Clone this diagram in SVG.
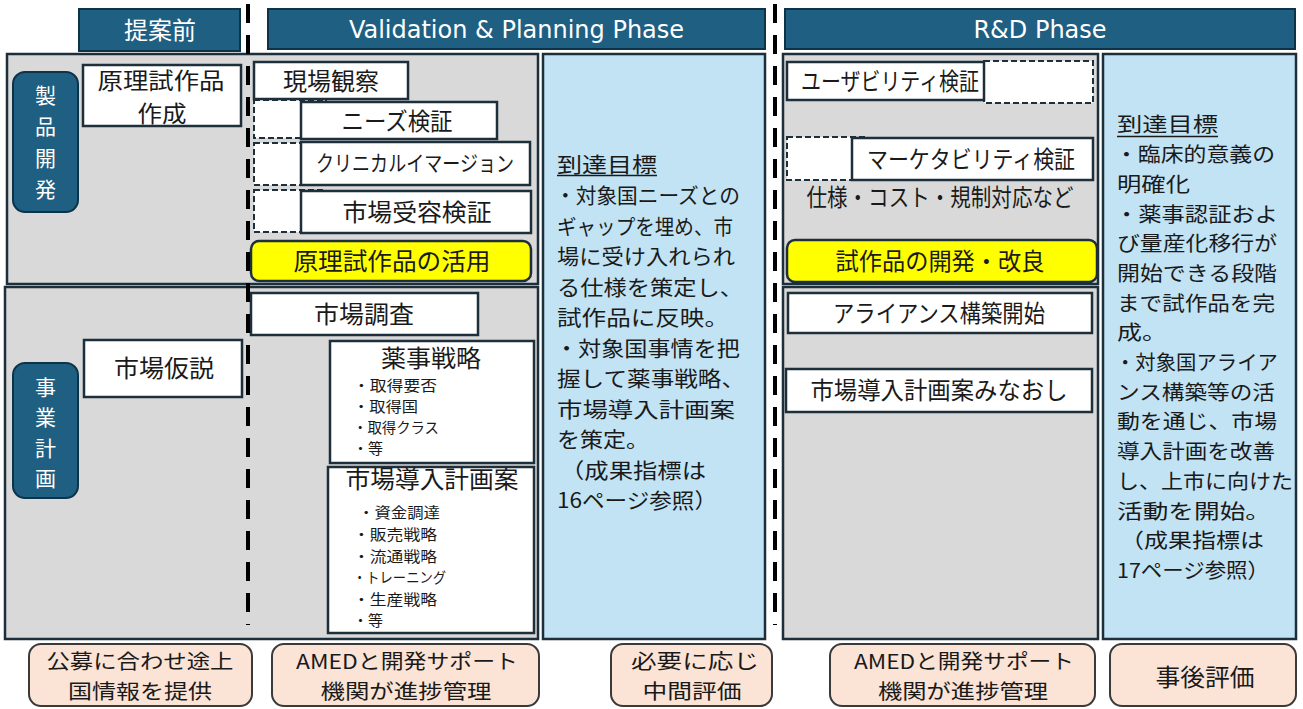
<svg xmlns="http://www.w3.org/2000/svg" width="1303" height="709" viewBox="0 0 1303 709">
<style>
text{font-family:"Noto Sans CJK JP","Noto Sans",sans-serif;fill:#1a1a1a;font-size:24px}
.hdr{fill:#1f5f82;stroke:#0d3349;stroke-width:2}
.ht{fill:#fff}
.lt{fill:#fff;font-size:21px}
.lat{font-family:"DejaVu Sans",sans-serif;font-size:24px;fill:#fff}
.panel{fill:#d9d9d9;stroke:#1c2f3a;stroke-width:2.5}
.goal{fill:#c2e3f4;stroke:#1c2f3a;stroke-width:2.5}
.box{fill:#fff;stroke:#1c2f3a;stroke-width:2.5}
.dbox{fill:#fff;stroke:#1c2f3a;stroke-width:2;stroke-dasharray:6 3}
.yel{fill:#ffff00;stroke:#1c2f3a;stroke-width:2.5}
.lbl{fill:#1f5f82;stroke:#0d3349;stroke-width:2}
.peach{fill:#fbe4d6;stroke:#3a3a3a;stroke-width:2}
.sep{stroke:#000;stroke-width:4;stroke-dasharray:19 12;fill:none}
.ul{stroke:#1a1a1a;stroke-width:1.5}
.m{text-anchor:middle}
.gv{font-size:21px}
.gr{font-size:20.4px}
.b2{font-size:20.4px}
.s{font-size:14.5px}
.t2{font-size:22.5px}
.k{font-size:21.5px}
</style>

<g id="headers">
  <g id="h-pre"><rect class="hdr" x="79" y="9" width="161" height="42"/><text class="ht m" x="160" y="38.5">提案前</text></g>
  <g id="h-val"><rect class="hdr" x="268" y="9" width="497" height="40"/><text class="lat m" x="516.5" y="38">Validation &amp; Planning Phase</text></g>
  <g id="h-rd"><rect class="hdr" x="785" y="9" width="510" height="40"/><text class="lat m" x="1040" y="38">R&amp;D Phase</text></g>
</g>

<g id="panels">
  <rect class="panel" x="7" y="54" width="531" height="230"/>
  <rect class="panel" x="5" y="287" width="533" height="352"/>
  <rect class="panel" x="783" y="54" width="315" height="230"/>
  <rect class="panel" x="783" y="287" width="315" height="352"/>
</g>

<g id="goal-vp">
  <rect class="goal" x="543" y="54" width="222" height="585"/>
  <text class="gv" x="557" y="171.5" textLength="100" lengthAdjust="spacingAndGlyphs">到達目標</text>
  <line class="ul" x1="557" y1="175.5" x2="657" y2="175.5"/>
  <text class="gv" x="555" y="203" textLength="185" lengthAdjust="spacingAndGlyphs">・対象国ニーズとの</text>
  <text class="gv" x="557" y="233.5" textLength="176" lengthAdjust="spacingAndGlyphs">ギャップを埋め、市</text>
  <text class="gv" x="557" y="264" textLength="178" lengthAdjust="spacingAndGlyphs">場に受け入れられ</text>
  <text class="gv" x="557" y="294.5" textLength="186" lengthAdjust="spacingAndGlyphs">る仕様を策定し、</text>
  <text class="gv" x="557" y="325" textLength="172" lengthAdjust="spacingAndGlyphs">試作品に反映。</text>
  <text class="gv" x="555" y="355.5" textLength="185" lengthAdjust="spacingAndGlyphs">・対象国事情を把</text>
  <text class="gv" x="557" y="386" textLength="188" lengthAdjust="spacingAndGlyphs">握して薬事戦略、</text>
  <text class="gv" x="557" y="416.5" textLength="178" lengthAdjust="spacingAndGlyphs">市場導入計画案</text>
  <text class="gv" x="557" y="447" textLength="92" lengthAdjust="spacingAndGlyphs">を策定。</text>
  <text class="gv" x="560" y="477.5" textLength="146" lengthAdjust="spacingAndGlyphs">（成果指標は</text>
  <text class="gv" x="557" y="508" textLength="160" lengthAdjust="spacingAndGlyphs">16ページ参照）</text>
</g>

<g id="goal-rd">
  <rect class="goal" x="1103" y="54" width="193" height="585"/>
  <text class="gr" x="1117" y="132.4" textLength="101" lengthAdjust="spacingAndGlyphs">到達目標</text>
  <line class="ul" x1="1117" y1="136.4" x2="1218" y2="136.4"/>
  <text class="gr" x="1115" y="162.1" textLength="160" lengthAdjust="spacingAndGlyphs">・臨床的意義の</text>
  <text class="gr" x="1117" y="191.8" textLength="73" lengthAdjust="spacingAndGlyphs">明確化</text>
  <text class="gr" x="1115" y="221.5" textLength="163" lengthAdjust="spacingAndGlyphs">・薬事認証およ</text>
  <text class="gr" x="1117" y="251.2" textLength="160" lengthAdjust="spacingAndGlyphs">び量産化移行が</text>
  <text class="gr" x="1117" y="280.9" textLength="160" lengthAdjust="spacingAndGlyphs">開始できる段階</text>
  <text class="gr" x="1117" y="310.6" textLength="158" lengthAdjust="spacingAndGlyphs">まで試作品を完</text>
  <text class="gr" x="1117" y="340.3" textLength="50" lengthAdjust="spacingAndGlyphs">成。</text>
  <text class="gr" x="1115" y="370" textLength="163" lengthAdjust="spacingAndGlyphs">・対象国アライア</text>
  <text class="gr" x="1117" y="399.7" textLength="158" lengthAdjust="spacingAndGlyphs">ンス構築等の活</text>
  <text class="gr" x="1117" y="429.4" textLength="160" lengthAdjust="spacingAndGlyphs">動を通じ、市場</text>
  <text class="gr" x="1117" y="459.1" textLength="158" lengthAdjust="spacingAndGlyphs">導入計画を改善</text>
  <text class="gr" x="1117" y="488.8" textLength="176" lengthAdjust="spacingAndGlyphs">し、上市に向けた</text>
  <text class="gr" x="1117" y="518.5" textLength="154" lengthAdjust="spacingAndGlyphs">活動を開始。</text>
  <text class="gr" x="1120" y="548.2" textLength="144" lengthAdjust="spacingAndGlyphs">（成果指標は</text>
  <text class="gr" x="1117" y="577.9" textLength="152" lengthAdjust="spacingAndGlyphs">17ページ参照）</text>
</g>

<g id="label-product">
  <rect class="lbl" x="13" y="72" width="65" height="140" rx="12"/>
  <text class="lt m" x="45.5" y="102.5">製</text>
  <text class="lt m" x="45.5" y="134">品</text>
  <text class="lt m" x="45.5" y="165.5">開</text>
  <text class="lt m" x="45.5" y="197">発</text>
</g>
<g id="label-business">
  <rect class="lbl" x="13" y="363" width="65" height="135" rx="12"/>
  <text class="lt m" x="45.5" y="394.5">事</text>
  <text class="lt m" x="45.5" y="425">業</text>
  <text class="lt m" x="45.5" y="455.5">計</text>
  <text class="lt m" x="45.5" y="486">画</text>
</g>

<g id="n-genri"><rect class="box" x="83" y="65" width="158" height="61"/>
  <text class="t2 m" x="161" y="88.5" textLength="127" lengthAdjust="spacingAndGlyphs">原理試作品</text>
  <text class="t2 m" x="162" y="121.5" textLength="49" lengthAdjust="spacingAndGlyphs">作成</text></g>
<g id="n-dashed-vp">
  <rect class="dbox" x="254" y="100" width="72" height="38"/>
  <rect class="dbox" x="254" y="143" width="72" height="42"/>
  <rect class="dbox" x="254" y="190" width="72" height="42"/>
</g>
<g id="n-genba"><rect class="box" x="254" y="62" width="154" height="37"/><text class="m" x="331" y="89.5">現場観察</text></g>
<g id="n-needs"><rect class="box" x="301" y="102" width="196" height="37"/><text class="m" x="397" y="129.5" textLength="111" lengthAdjust="spacingAndGlyphs">ニーズ検証</text></g>
<g id="n-clinical"><rect class="box" x="301" y="142" width="229" height="43"/><text class="k" x="316" y="171" textLength="198" lengthAdjust="spacingAndGlyphs">クリニカルイマージョン</text></g>
<g id="n-juyo"><rect class="box" x="301" y="191" width="230" height="42"/><text class="m" x="417" y="220.5" textLength="149" lengthAdjust="spacingAndGlyphs">市場受容検証</text></g>
<g id="n-katsuyo"><rect class="yel" x="251" y="241" width="280" height="40" rx="8"/><text class="m" x="392" y="270" textLength="197" lengthAdjust="spacingAndGlyphs">原理試作品の活用</text></g>

<g id="n-chosa"><rect class="box" x="251" y="293" width="227" height="42"/><text class="m" x="364" y="323" textLength="100" lengthAdjust="spacingAndGlyphs">市場調査</text></g>
<g id="n-kasetsu"><rect class="box" x="84" y="340" width="158" height="57"/><text class="m" x="164" y="377" textLength="100" lengthAdjust="spacingAndGlyphs">市場仮説</text></g>
<g id="n-yakuji"><rect class="box" x="330" y="341" width="204" height="122"/>
  <text class="m" x="431" y="367" textLength="100" lengthAdjust="spacingAndGlyphs">薬事戦略</text>
  <text class="s" x="353" y="391" textLength="84" lengthAdjust="spacingAndGlyphs">・取得要否</text>
  <text class="s" x="353" y="412" textLength="65" lengthAdjust="spacingAndGlyphs">・取得国</text>
  <text class="s" x="353" y="433" textLength="86" lengthAdjust="spacingAndGlyphs">・取得クラス</text>
  <text class="s" x="353" y="454" textLength="30" lengthAdjust="spacingAndGlyphs">・等</text></g>
<g id="n-donyu"><rect class="box" x="328" y="467" width="206" height="166"/>
  <text class="m" x="432" y="488" textLength="173" lengthAdjust="spacingAndGlyphs">市場導入計画案</text>
  <text class="s" x="358" y="518" textLength="82" lengthAdjust="spacingAndGlyphs">・資金調達</text>
  <text class="s" x="353" y="540" textLength="84" lengthAdjust="spacingAndGlyphs">・販売戦略</text>
  <text class="s" x="353" y="561.5" textLength="84" lengthAdjust="spacingAndGlyphs">・流通戦略</text>
  <text class="s" x="353" y="583" textLength="93" lengthAdjust="spacingAndGlyphs">・トレーニング</text>
  <text class="s" x="353" y="604.5" textLength="84" lengthAdjust="spacingAndGlyphs">・生産戦略</text>
  <text class="s" x="353" y="626" textLength="30" lengthAdjust="spacingAndGlyphs">・等</text></g>

<g id="n-dashed-rd">
  <rect class="dbox" x="984" y="61" width="109" height="42"/>
  <rect class="dbox" x="787" y="137" width="80" height="43"/>
</g>
<g id="n-usability"><rect class="box" x="787" y="62" width="197" height="38"/><text class="m" x="890" y="90" textLength="178" lengthAdjust="spacingAndGlyphs">ユーザビリティ検証</text></g>
<g id="n-market"><rect class="box" x="852" y="138" width="241" height="42"/><text class="m" x="971" y="167.5" textLength="208" lengthAdjust="spacingAndGlyphs">マーケタビリティ検証</text></g>
<g id="n-spec"><text class="m" x="940" y="206" textLength="267" lengthAdjust="spacingAndGlyphs">仕様・コスト・規制対応など</text></g>
<g id="n-kairyo"><rect class="yel" x="787" y="240" width="310" height="42" rx="8"/><text class="m" x="940" y="270" textLength="209" lengthAdjust="spacingAndGlyphs">試作品の開発・改良</text></g>
<g id="n-alliance"><rect class="box" x="788" y="293" width="304" height="40"/><text class="m" x="939" y="321.5" textLength="212" lengthAdjust="spacingAndGlyphs">アライアンス構築開始</text></g>
<g id="n-minaoshi"><rect class="box" x="786" y="369" width="306" height="43"/><text class="m" x="939" y="398.5" textLength="257" lengthAdjust="spacingAndGlyphs">市場導入計画案みなおし</text></g>

<g id="n-bottom1"><rect class="peach" x="29" y="644" width="223" height="62" rx="12"/>
  <text class="b2 m" x="140" y="669" textLength="187" lengthAdjust="spacingAndGlyphs">公募に合わせ途上</text>
  <text class="b2 m" x="140" y="699" textLength="144" lengthAdjust="spacingAndGlyphs">国情報を提供</text></g>
<g id="n-bottom2"><rect class="peach" x="272" y="644" width="267" height="62" rx="12"/>
  <text class="b2 m" x="407" y="669" textLength="222" lengthAdjust="spacingAndGlyphs">AMEDと開発サポート</text>
  <text class="b2 m" x="406" y="699" textLength="171" lengthAdjust="spacingAndGlyphs">機関が進捗管理</text></g>
<g id="n-bottom3"><rect class="peach" x="611" y="644" width="161" height="62" rx="12"/>
  <text class="b2 m" x="695" y="669" textLength="128" lengthAdjust="spacingAndGlyphs">必要に応じ</text>
  <text class="b2 m" x="692" y="699" textLength="99" lengthAdjust="spacingAndGlyphs">中間評価</text></g>
<g id="n-bottom4"><rect class="peach" x="830" y="644" width="265" height="62" rx="12"/>
  <text class="b2 m" x="964" y="669" textLength="220" lengthAdjust="spacingAndGlyphs">AMEDと開発サポート</text>
  <text class="b2 m" x="963" y="699" textLength="170" lengthAdjust="spacingAndGlyphs">機関が進捗管理</text></g>
<g id="n-bottom5"><rect class="peach" x="1110" y="644" width="186" height="62" rx="12"/>
  <text class="m" x="1205" y="685.5" textLength="99" lengthAdjust="spacingAndGlyphs">事後評価</text></g>

<g id="connectors">
  <line class="sep" x1="248" y1="4" x2="248" y2="625"/>
  <line class="sep" x1="775" y1="4" x2="775" y2="625"/>
</g>
</svg>
